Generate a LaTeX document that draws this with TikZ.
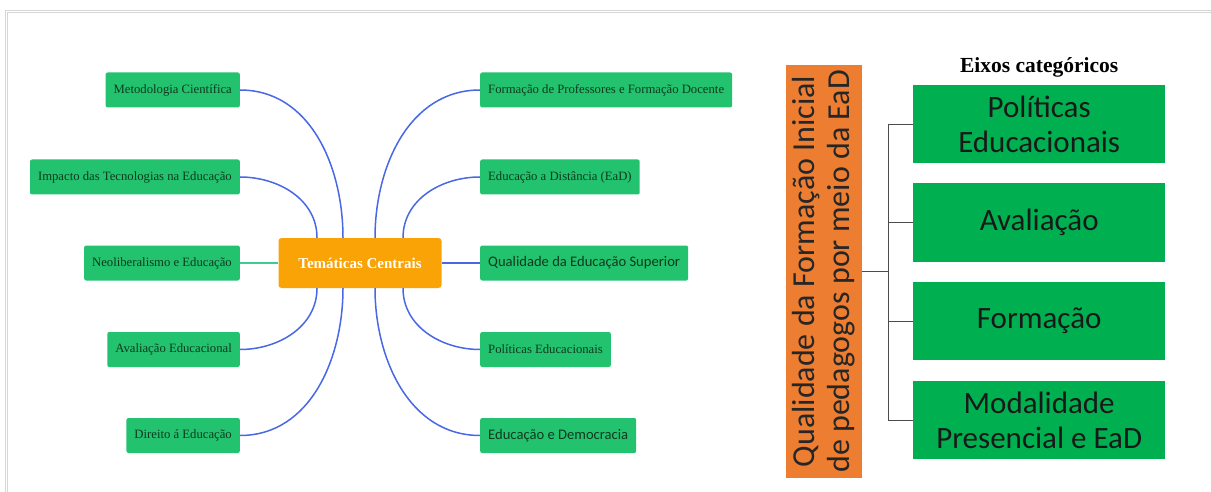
\documentclass[tikz,border=0pt]{standalone}
\usepackage{fontspec}
\setmainfont{Liberation Serif}
\newfontfamily\calib{Carlito}
\usetikzlibrary{positioning}
\definecolor{Mint-1}{RGB}{34,194,110}
\definecolor{Mint-2}{RGB}{0,176,80}
\definecolor{Amber-1}{RGB}{250,163,7}
\definecolor{Amber-2}{RGB}{237,125,49}
\definecolor{Link-1}{RGB}{72,104,228}
\definecolor{Link-2}{RGB}{60,206,140}
\definecolor{Leaf-1}{RGB}{14,58,30}
\definecolor{Frame-1}{RGB}{214,214,214}

\begin{document}
\begin{tikzpicture}[x=1pt, y=1pt]
    \tikzset{ lsub/.style ={fill=Mint-1, rounded corners=2pt, text=Leaf-1, minimum height=35pt, inner xsep=8pt, font=\fontsize{12.7}{14}\selectfont} }
    \tikzset{ ssub/.style ={lsub, font=\calib\fontsize{14.6}{16}\selectfont} }
    \tikzset{ tmc/.style  ={fill=Amber-1, rounded corners=3pt, text=white, minimum width=163pt, minimum height=50pt, font=\bfseries\fontsize{15}{17}\selectfont} }
    \tikzset{ qbox/.style ={fill=Amber-2, text=black!85, rotate=90, minimum width=413pt, minimum height=76pt, inner sep=0pt, align=center, font=\calib\fontsize{32}{35}\selectfont} }
    \tikzset{ eix/.style  ={fill=Mint-2, text=black!90, minimum width=252pt, minimum height=78pt, inner sep=0pt, align=center, font=\calib\fontsize{31}{35}\selectfont} }
    \tikzset{ lnk/.style  ={draw=Link-1, line width=1.5pt} }
    \tikzset{ brk/.style  ={draw=black!70, line width=0.8pt} }

    \useasboundingbox (0,0) rectangle (1211,-492);
    \begin{scope}
      \clip (0,0) rectangle (1211,-492);
      \draw[Frame-1, double=white, line width=0.8pt, double distance=1.6pt] (6.5,-11.5) rectangle (1230,-520);
    \end{scope}

    \node[tmc                     ] (tema) at ( 360.0,-263.0) {Temáticas Centrais};

    \node[lsub, anchor=east       ] (l1) at ( 240.0, -90.0) {Metodologia Científica};
    \node[lsub, anchor=east       ] (l2) at ( 240.0,-177.0) {Impacto das Tecnologias na Educação};
    \node[lsub, anchor=east       ] (l3) at ( 240.0,-263.0) {Neoliberalismo e Educação};
    \node[lsub, anchor=east       ] (l4) at ( 240.0,-349.5) {Avaliação Educacional};
    \node[lsub, anchor=east       ] (l5) at ( 240.0,-435.5) {Direito á Educação};

    \node[lsub, anchor=west       ] (r1) at ( 480.0, -90.0) {Formação de Professores e Formação Docente};
    \node[lsub, anchor=west       ] (r2) at ( 480.0,-177.0) {Educação a Distância (EaD)};
    \node[ssub, anchor=west       ] (r3) at ( 480.0,-263.0) {Qualidade da Educação Superior};
    \node[lsub, anchor=west       ] (r4) at ( 480.0,-349.5) {Políticas Educacionais};
    \node[ssub, anchor=west       ] (r5) at ( 480.0,-435.5) {Educação e Democracia};

    \draw[lnk] (l1.east) to[out=0,  in=90 ] ([xshift=-17pt]tema.north);
    \draw[lnk] (l2.east) to[out=0,  in=90 ] ([xshift=-43pt]tema.north);
    \draw[Link-2, line width=1.5pt] (l3.east) -- (tema.west);
    \draw[lnk] (l4.east) to[out=0,  in=-90] ([xshift=-43pt]tema.south);
    \draw[lnk] (l5.east) to[out=0,  in=-90] ([xshift=-17pt]tema.south);
    \draw[lnk] (r1.west) to[out=180,in=90 ] ([xshift=15pt]tema.north);
    \draw[lnk] (r2.west) to[out=180,in=90 ] ([xshift=43pt]tema.north);
    \draw[lnk] (r3.west) -- (tema.east);
    \draw[lnk] (r4.west) to[out=180,in=-90] ([xshift=43pt]tema.south);
    \draw[lnk] (r5.west) to[out=180,in=-90] ([xshift=15pt]tema.south);

    \node[qbox                    ] (qual) at ( 824.0,-271.5) {Qualidade da Formação Inicial\\de pedagogos por meio da EaD};
    \node[eix,  anchor=west       ] (e1)   at ( 913.0,-124.0) {Políticas\\Educacionais};
    \node[eix,  anchor=west       ] (e2)   at ( 913.0,-222.5) {Avaliação};
    \node[eix,  anchor=west       ] (e3)   at ( 913.0,-321.0) {Formação};
    \node[eix,  anchor=west       ] (e4)   at ( 913.0,-420.0) {Modalidade\\Presencial e EaD};
    \node[above=4pt of e1, font=\bfseries\fontsize{21.5}{23}\selectfont] (eixt) {Eixos categóricos};

    \coordinate[right=26pt of qual.south] (br);
    \draw[brk] (qual.south) -- (br);
    \draw[brk] (br |- e1.west) -- (br |- e4.west);
    \foreach \e in {e1,e2,e3,e4}
      \draw[brk] (br |- \e.west) -- (\e.west);
\end{tikzpicture}
\end{document}
